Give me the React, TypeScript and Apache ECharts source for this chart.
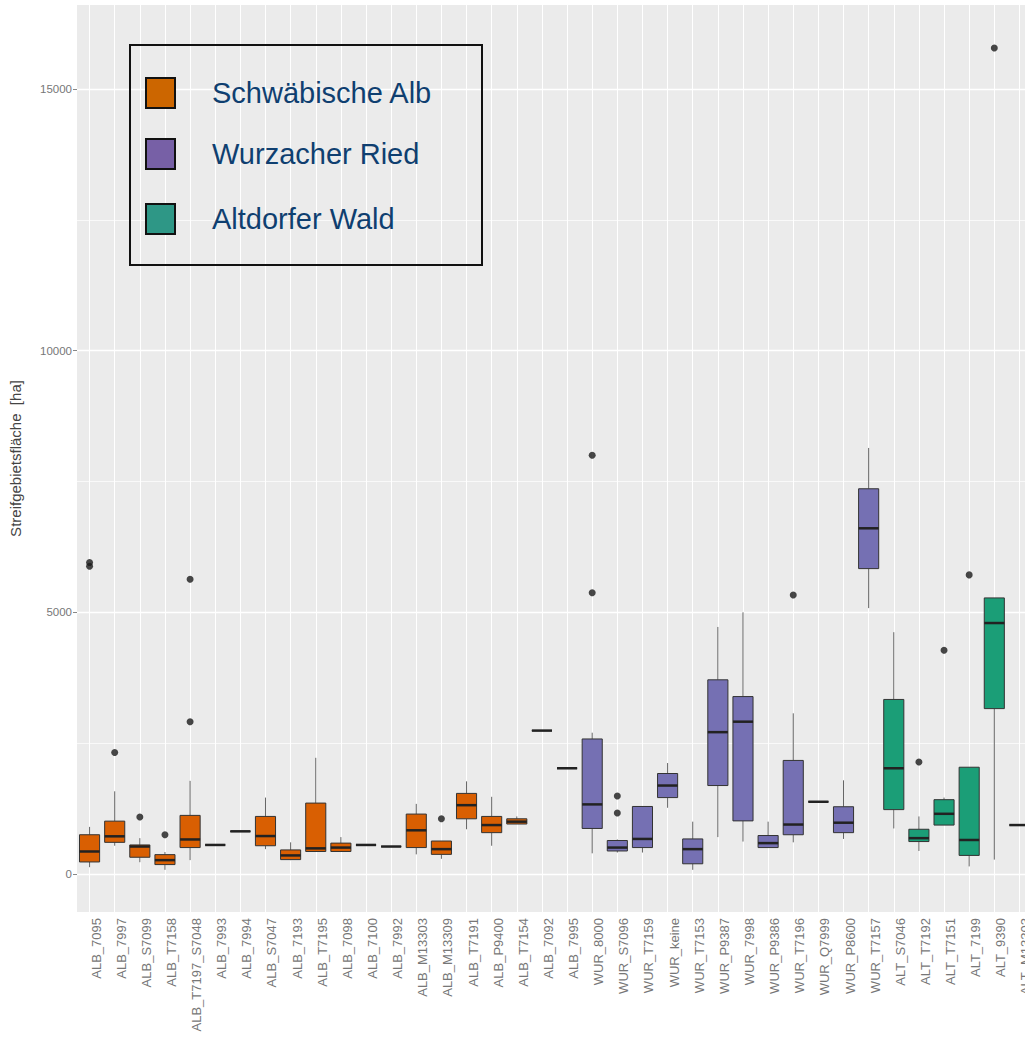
import React, { useEffect, useRef } from "react";
import * as echarts from "echarts";

// ---- data ----
const categories = [
  "ALB_7095", "ALB_7997", "ALB_S7099", "ALB_T7158", "ALB_T7197_S7048", "ALB_7993", "ALB_7994",
  "ALB_S7047", "ALB_7193", "ALB_T7195", "ALB_7098", "ALB_7100", "ALB_7992", "ALB_M13303",
  "ALB_M13309", "ALB_T7191", "ALB_P9400", "ALB_T7154", "ALB_7092", "ALB_7995",
  "WUR_8000", "WUR_S7096", "WUR_T7159", "WUR_keine", "WUR_T7153", "WUR_P9387", "WUR_7998",
  "WUR_P9386", "WUR_T7196", "WUR_Q7999", "WUR_P8600", "WUR_T7157",
  "ALT_S7046", "ALT_T7192", "ALT_T7151", "ALT_7199", "ALT_9390", "ALT_M13303",
];
const regionOf = [
  0, 0, 0, 0, 0, 0, 0, 0, 0, 0, 0, 0, 0, 0, 0, 0, 0, 0, 0, 0,
  1, 1, 1, 1, 1, 1, 1, 1, 1, 1, 1, 1,
  2, 2, 2, 2, 2, 2,
];
const whiskerLow = [
  130, 540, 225, 80, 265, 555, 815, 475, 265, 430, 430, 555, 525, 375, 290, 855, 540, 955, 2740, 2020,
  395, 410, 410, 1265, 80, 705, 620, 505, 605, 1380, 670, 5080,
  870, 440, 935, 145, 275, 935,
];
const q1 = [
  230, 605, 320, 180, 505, 555, 815, 540, 275, 430, 430, 555, 525, 505, 375, 1055, 790, 955, 2740, 2020,
  870, 440, 505, 1460, 195, 1690, 1015, 505, 750, 1380, 790, 5835,
  1230, 620, 935, 355, 3160, 935,
];
const median = [
  430, 720, 525, 265, 660, 555, 815, 725, 355, 490, 505, 555, 525, 835, 475, 1315, 935, 1000, 2740, 2020,
  1330, 505, 670, 1690, 475, 2710, 2910, 590, 945, 1380, 980, 6605,
  2020, 685, 1150, 650, 4795, 935,
];
const q3 = [
  750, 1010, 555, 370, 1120, 555, 815, 1100, 460, 1355, 590, 555, 525, 1145, 630, 1540, 1100, 1055, 2740, 2020,
  2580, 640, 1290, 1920, 670, 3710, 3390, 735, 2170, 1380, 1285, 7360,
  3335, 855, 1420, 2040, 5275, 935,
];
const whiskerHigh = [
  900, 1580, 685, 420, 1780, 555, 815, 1460, 605, 2220, 705, 555, 525, 1340, 630, 1770, 1475, 1100, 2740, 2020,
  2700, 660, 1295, 2120, 1000, 4720, 5000, 1000, 3070, 1380, 1790, 8140,
  4620, 1100, 1460, 2040, 5275, 935,
];
const outlierCats = [
  "ALB_7095", "ALB_7095", "ALB_7997", "ALB_S7099", "ALB_T7158", "ALB_T7197_S7048", "ALB_T7197_S7048",
  "ALB_M13309", "WUR_8000", "WUR_8000", "WUR_S7096", "WUR_S7096", "WUR_T7196",
  "ALT_T7192", "ALT_T7151", "ALT_7199", "ALT_9390",
];
const outlierValues = [
  5880, 5950, 2320, 1090, 750, 2910, 5630,
  1055, 5375, 8000, 1165, 1490, 5330,
  2140, 4275, 5715, 15780,
];
const yTickValues = [0, 5000, 10000, 15000];
const yMinorValues = [2500, 7500, 12500];
const legendLabels = ["Schwäbische Alb", "Wurzacher Ried", "Altdorfer Wald"];
const boxColors = ["#D95F02", "#7570B3", "#1B9E77"];
const legendColors = ["#CC6600", "#7760A6", "#2E9786"];
const yTitle = "Streifgebietsfläche  [ha]";

const FONT = "'Liberation Sans', Arial, sans-serif";

export default function App() {
  const ref = useRef<HTMLDivElement>(null);
  useEffect(() => {
    if (!ref.current) return;
    const chart = echarts.init(ref.current, undefined, { renderer: "svg" });
    const boxData = categories.map((_, i) => [
      i, whiskerLow[i], q1[i], median[i], q3[i], whiskerHigh[i], regionOf[i],
    ]);
    const outData = outlierCats.map((c, i) => [c, outlierValues[i]]);

    const gridLines: any[] = [
      ...categories.map((c) => ({ xAxis: c, lineStyle: { width: 1 } })),
      ...yTickValues.map((v) => ({ yAxis: v, lineStyle: { width: 1.4 } })),
      ...yMinorValues.map((v) => ({ yAxis: v, lineStyle: { width: 0.7 } })),
    ];

    const legendGraphics: any[] = [
      {
        type: "rect",
        shape: { x: 130, y: 45, width: 352, height: 220 },
        style: { fill: "none", stroke: "#111", lineWidth: 2 },
        z: 100,
      },
    ];
    const rowY = [93, 154, 219];
    legendLabels.forEach((lab, i) => {
      legendGraphics.push({
        type: "rect",
        shape: { x: 146, y: rowY[i] - 15, width: 29, height: 30 },
        style: { fill: legendColors[i], stroke: "#111", lineWidth: 2 },
        z: 100,
      });
      legendGraphics.push({
        type: "text",
        x: 212,
        y: rowY[i],
        style: {
          text: lab,
          fill: "#0F3F70",
          font: `29px ${FONT}`,
          verticalAlign: "middle",
          align: "left",
        },
        z: 100,
      });
    });

    chart.setOption({
      animation: false,
      backgroundColor: "#ffffff",
      textStyle: { fontFamily: FONT },
      grid: {
        left: 77,
        top: 5,
        width: 955,
        height: 907,
        show: true,
        backgroundColor: "#EBEBEB",
        borderWidth: 0,
      },
      xAxis: {
        type: "category",
        data: categories,
        axisLine: { show: false },
        axisTick: {
          show: true,
          alignWithLabel: true,
          length: 4,
          lineStyle: { color: "#888" },
        },
        axisLabel: {
          interval: 0,
          rotate: 90,
          fontSize: 13,
          color: "#777",
          margin: 6,
          verticalAlign: "top",
          fontFamily: FONT,
        },
        splitLine: { show: false },
      },
      yAxis: {
        type: "value",
        min: -726,
        max: 16603,
        name: yTitle,
        nameLocation: "middle",
        nameRotate: 90,
        nameGap: 54,
        nameTextStyle: { fontSize: 15, color: "#444", fontFamily: FONT },
        axisLine: { show: false },
        axisTick: {
          show: true,
          length: 4,
          customValues: yTickValues,
          lineStyle: { color: "#888" },
        },
        axisLabel: {
          customValues: yTickValues,
          formatter: (v: number) => String(v),
          fontSize: 11.5,
          color: "#777",
          margin: 5,
          fontFamily: FONT,
        },
        splitLine: { show: false },
      },
      graphic: legendGraphics,
      series: [
        {
          type: "line",
          data: [],
          z: 1,
          silent: true,
          markLine: {
            z: 1,
            silent: true,
            symbol: "none",
            label: { show: false },
            lineStyle: { color: "#ffffff", type: "solid" },
            data: gridLines,
          },
        },
        {
          type: "custom",
          z: 3,
          data: boxData,
          encode: { x: 0, y: [1, 2, 3, 4, 5] },
          renderItem: (params: any, api: any) => {
            const idx = api.value(0);
            const reg = api.value(6);
            const pLow = api.coord([idx, api.value(1)]);
            const pQ1 = api.coord([idx, api.value(2)]);
            const pMed = api.coord([idx, api.value(3)]);
            const pQ3 = api.coord([idx, api.value(4)]);
            const pHigh = api.coord([idx, api.value(5)]);
            const bw = api.size([1, 0])[0] * 0.8;
            const cx = pMed[0];
            return {
              type: "group",
              children: [
                {
                  type: "line",
                  shape: { x1: cx, y1: pQ3[1], x2: cx, y2: pHigh[1] },
                  style: { stroke: "#666", lineWidth: 1 },
                },
                {
                  type: "line",
                  shape: { x1: cx, y1: pLow[1], x2: cx, y2: pQ1[1] },
                  style: { stroke: "#666", lineWidth: 1 },
                },
                {
                  type: "rect",
                  shape: { x: cx - bw / 2, y: pQ3[1], width: bw, height: pQ1[1] - pQ3[1] },
                  style: { fill: boxColors[reg], stroke: "#333", lineWidth: 1 },
                },
                {
                  type: "line",
                  shape: { x1: cx - bw / 2, y1: pMed[1], x2: cx + bw / 2, y2: pMed[1] },
                  style: { stroke: "#222", lineWidth: 2.5 },
                },
              ],
            };
          },
        },
        {
          type: "scatter",
          z: 4,
          data: outData,
          symbol: "circle",
          symbolSize: 7,
          itemStyle: { color: "#1a1a1a" },
        },
      ],
    });
    return () => chart.dispose();
  }, []);

  return (
    <div
      style={{
        position: "fixed",
        left: 0,
        top: 0,
        width: 1025,
        height: 1040,
        overflow: "hidden",
        background: "#fff",
      }}
    >
      <div ref={ref} style={{ width: 1060, height: 1040 }} />
    </div>
  );
}
